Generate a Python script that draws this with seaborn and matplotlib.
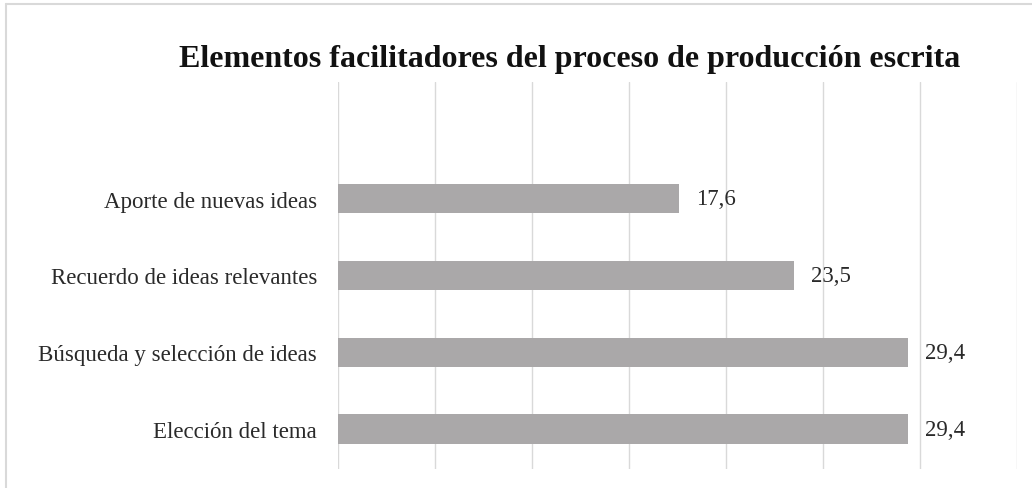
import matplotlib
matplotlib.use("Agg")
import matplotlib.pyplot as plt
import seaborn as sns
import pandas as pd
from matplotlib.lines import Line2D

categories = ["Aporte de nuevas ideas", "Recuerdo de ideas relevantes",
              "Búsqueda y selección de ideas", "Elección del tema"]
values = [17.6, 23.5, 29.4, 29.4]
value_labels = ["17,6", "23,5", "29,4", "29,4"]
title = "Elementos facilitadores del proceso de producción escrita"

sns.set_theme(style="white")
plt.rcParams['font.family'] = ['Liberation Serif', 'DejaVu Serif']

df = pd.DataFrame({"cat": categories, "val": values})

fig = plt.figure(figsize=(10.32, 4.89), dpi=100)
ax = fig.add_axes([338/1032, 1-470/489, (1017-338)/1032, (470-83)/489])

sns.barplot(data=df, x="val", y="cat", orient="h", color="#aaa8a9",
            saturation=1, width=0.38, ax=ax, edgecolor="none")

ax.set_xlim(0, 35)
ax.set_ylim(3.52, -1.52)
ax.set_xticks(range(0, 36, 5))
ax.xaxis.grid(True, color="#d9d9d9", linewidth=1)
ax.set_axisbelow(True)
ax.tick_params(axis="x", labelbottom=False, length=0)
ax.tick_params(axis="y", length=0, labelsize=16.5, labelcolor="#2a2a2a", pad=15)
for s in ax.spines.values():
    s.set_visible(False)
ax.set_xlabel("")
ax.set_ylabel("")

for i, (v, lab) in enumerate(zip(values, value_labels)):
    ax.annotate(lab, xy=(v, i), xytext=(12, 0), textcoords="offset points",
                ha="left", va="center", fontsize=16.5, color="#2a2a2a")

fig.text(570/1032, 1-60/489, title, ha="center", va="center",
         fontsize=23, fontweight="bold", color="#111111")

# chart frame (top and left)
fig.add_artist(Line2D([6/1032, 6/1032], [1-5/489, 0], transform=fig.transFigure,
                      color="#d9d9d9", linewidth=1.5))
fig.add_artist(Line2D([6/1032, 1], [1-5/489, 1-5/489], transform=fig.transFigure,
                      color="#d9d9d9", linewidth=1.5))

fig.savefig("out.png", dpi=100)
